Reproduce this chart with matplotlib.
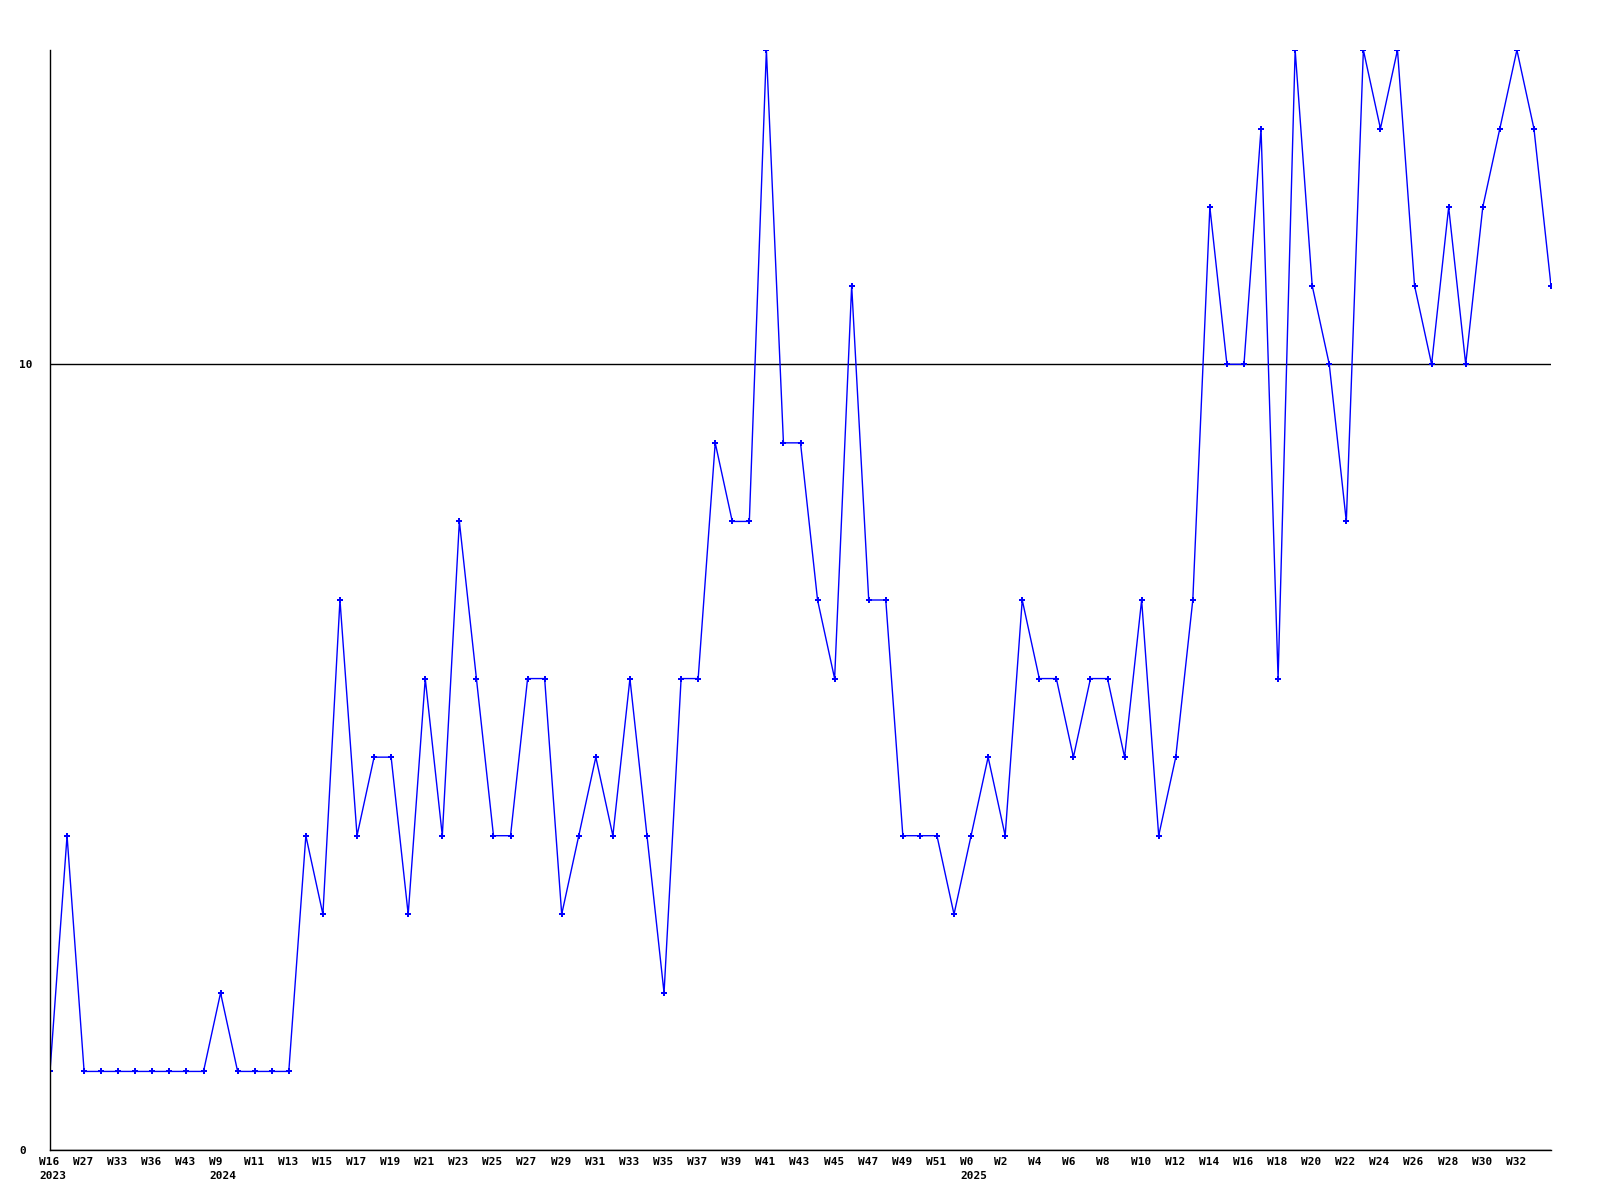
import matplotlib
matplotlib.use('Agg')
import matplotlib.pyplot as plt

# weekly counts, one point per week
values = [1, 4, 1, 1, 1, 1, 1, 1, 1, 1,
          2, 1, 1, 1, 1, 4, 3, 7, 4, 5,
          5, 3, 6, 4, 8, 6, 4, 4, 6, 6,
          3, 4, 5, 4, 6, 4, 2, 6, 6, 9,
          8, 8, 14, 9, 9, 7, 6, 11, 7, 7,
          4, 4, 4, 3, 4, 5, 4, 7, 6, 6,
          5, 6, 6, 5, 7, 4, 5, 7, 12, 10,
          10, 13, 6, 14, 11, 10, 8, 14, 13, 14,
          11, 10, 12, 10, 12, 13, 14, 13, 11]

# labels shown on every other week
week_labels = ['W16\n2023', 'W27', 'W33', 'W36', 'W43',
               'W9\n2024', 'W11', 'W13', 'W15', 'W17', 'W19', 'W21', 'W23', 'W25',
               'W27', 'W29', 'W31', 'W33', 'W35', 'W37', 'W39', 'W41', 'W43',
               'W45', 'W47', 'W49', 'W51',
               'W0\n2025', 'W2', 'W4', 'W6', 'W8', 'W10', 'W12', 'W14', 'W16',
               'W18', 'W20', 'W22', 'W24', 'W26', 'W28', 'W30', 'W32']
y_ticks = [0, 10]

fig = plt.figure(figsize=(16, 12), dpi=100)
ax = fig.add_axes([50 / 1600, 50 / 1200, 1501 / 1600, 1100 / 1200])

x = list(range(len(values)))
ax.plot(x, values, color='#0000ff', lw=1, marker='P', ms=3.8, mew=0)

ax.set_xlim(0, len(values) - 1)
ax.set_ylim(0, 14)
ax.spines['top'].set_visible(False)
ax.spines['right'].set_visible(False)
for s in ('left', 'bottom'):
    ax.spines[s].set_linewidth(1)
    ax.spines[s].set_color('black')

ax.set_yticks(y_ticks)
ax.set_yticklabels([str(v) for v in y_ticks], family='DejaVu Sans Mono',
                   fontweight='bold', fontsize=8, ha='left')
ax.yaxis.grid(True, color='black', lw=1)
ax.set_axisbelow(True)
ax.tick_params(axis='both', length=0)
ax.tick_params(axis='y', pad=22)

# x labels: left aligned, a little to the left of each tick
ax.set_xticks([])
for i, lbl in zip(x[::2], week_labels):
    ax.annotate(lbl, xy=(i, 0), xycoords=('data', 'axes fraction'),
                xytext=(-8, -5), textcoords='offset points',
                ha='left', va='top', family='DejaVu Sans Mono',
                fontweight='bold', fontsize=8, linespacing=1.45)

fig.savefig('out.png', dpi=100)
